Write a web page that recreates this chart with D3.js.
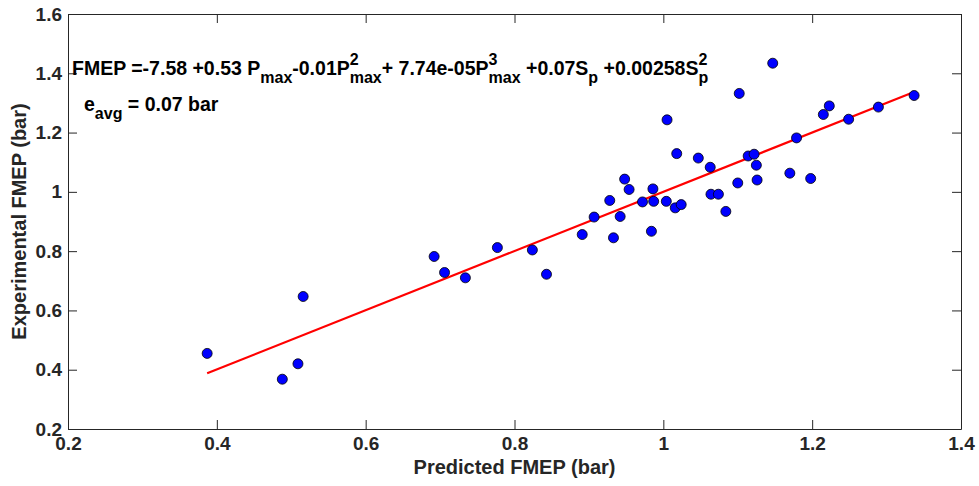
<!DOCTYPE html>
<meta charset="utf-8">
<style>
body {
  margin: 0;
  background: #fff;
  font-family: "Liberation Sans", Arial, Helvetica, sans-serif;
}
.axis path, .axis line {
  stroke: #262626;
  stroke-width: 1;
}
.axis text {
  font-family: "Liberation Sans", Arial, sans-serif;
  font-size: 19px;
  font-weight: bold;
  fill: #262626;
}
.label {
  font-size: 20px;
  font-weight: bold;
  fill: #262626;
}
.eq {
  font-weight: bold;
  fill: #000;
}
</style>
<body>
<script src="https://cdn.jsdelivr.net/npm/d3@7"></script>
<script>

var width = 979,
    height = 486;

var margin = {top: 14, right: 18, bottom: 57, left: 68};

// predicted vs experimental FMEP (bar)
var predicted = [0.387, 0.488, 0.509, 0.516, 0.692, 0.706, 0.734, 0.777, 0.824, 0.843,
  0.891, 0.907, 0.928, 0.933, 0.942, 0.948, 0.954, 0.972, 0.984, 0.986,
  0.987, 1.005, 1.004, 1.016, 1.018, 1.024, 1.047, 1.063, 1.064, 1.074,
  1.084, 1.100, 1.102, 1.114, 1.122, 1.125, 1.126, 1.147, 1.170, 1.179,
  1.198, 1.215, 1.223, 1.249, 1.289, 1.337];
var experimental = [0.455, 0.368, 0.420, 0.647, 0.782, 0.728, 0.710, 0.812, 0.804, 0.722,
  0.856, 0.915, 0.971, 0.845, 0.917, 1.043, 1.008, 0.966, 0.867, 1.010,
  0.968, 1.243, 0.968, 0.946, 1.129, 0.957, 1.114, 1.083, 0.992, 0.992,
  0.934, 1.030, 1.332, 1.121, 1.127, 1.090, 1.040, 1.434, 1.063, 1.182,
  1.045, 1.261, 1.290, 1.245, 1.286, 1.325];

// fitted line end points
var fitX = [0.387, 1.336];
var fitY = [0.388, 1.336];

var xTicks = [0.2, 0.4, 0.6, 0.8, 1, 1.2, 1.4];
var yTicks = [0.2, 0.4, 0.6, 0.8, 1, 1.2, 1.4, 1.6];

// equation pieces: [text, kind]  n = normal, sub, sup, both = sup over sub
var equation = [
  ["FMEP =-7.58 +0.53 P", "n"], ["max", "sub"],
  ["-0.01P", "n"], ["2|max", "both"],
  ["+ 7.74e-05P", "n"], ["3|max", "both"],
  [" +0.07S", "n"], ["p", "sub"],
  [" +0.00258S", "n"], ["2|p", "both"]
];
var errLine = [["e", "n"], ["avg", "sub"], [" = 0.07 bar", "n"]];

var svg = d3.select("body").append("svg")
    .attr("width", width)
    .attr("height", height);

var x = d3.scaleLinear()
    .domain([0.2, 1.4])
    .range([margin.left, width - margin.right]);

var y = d3.scaleLinear()
    .domain([0.2, 1.6])
    .range([height - margin.bottom, margin.top]);

var fmt = function(d) { return d === 1 ? "1" : d3.format(".1f")(d); };

svg.append("g")
    .attr("class", "axis")
    .attr("transform", "translate(0," + y(0.2) + ")")
    .call(d3.axisBottom(x).tickValues(xTicks).tickFormat(fmt).tickSizeInner(-9).tickSizeOuter(0).tickPadding(8))
    .call(function(g) { g.selectAll("text").attr("dy", "0.71em").attr("y", 8); });

svg.append("g")
    .attr("class", "axis")
    .attr("transform", "translate(0," + y(1.6) + ")")
    .call(d3.axisTop(x).tickValues(xTicks).tickFormat("").tickSizeInner(-9).tickSizeOuter(0));

svg.append("g")
    .attr("class", "axis")
    .attr("transform", "translate(" + x(0.2) + ",0)")
    .call(d3.axisLeft(y).tickValues(yTicks).tickFormat(fmt).tickSizeInner(-9).tickSizeOuter(0))
    .call(function(g) { g.selectAll("text").attr("x", -6); });

svg.append("g")
    .attr("class", "axis")
    .attr("transform", "translate(" + x(1.4) + ",0)")
    .call(d3.axisRight(y).tickValues(yTicks).tickFormat("").tickSizeInner(-9).tickSizeOuter(0));

svg.selectAll(".axis .domain").attr("fill", "none");

// fit line
var line = d3.line()
    .x(function(d) { return x(d[0]); })
    .y(function(d) { return y(d[1]); });

svg.append("path")
    .datum(fitX.map(function(v, i) { return [v, fitY[i]]; }))
    .attr("d", line)
    .attr("fill", "none")
    .attr("stroke", "#ff0000")
    .attr("stroke-width", 2.2);

svg.selectAll(".dot")
    .data(predicted.map(function(v, i) { return [v, experimental[i]]; }))
  .enter().append("circle")
    .attr("class", "dot")
    .attr("cx", function(d) { return x(d[0]); })
    .attr("cy", function(d) { return y(d[1]); })
    .attr("r", 5)
    .attr("fill", "#0000ff")
    .attr("stroke", "#000")
    .attr("stroke-width", 0.8);

// axis labels
svg.append("text")
    .attr("class", "label")
    .attr("x", (x(0.2) + x(1.4)) / 2)
    .attr("y", 474)
    .attr("text-anchor", "middle")
    .text("Predicted FMEP (bar)");

svg.append("text")
    .attr("class", "label")
    .attr("transform", "translate(26," + (y(0.9)) + ") rotate(-90)")
    .attr("text-anchor", "middle")
    .text("Experimental FMEP (bar)");

// text with sub/superscripts
function richText(parts, x0, y0, size, small) {
  var g = svg.append("g").attr("class", "eq");
  var cx = x0;
  parts.forEach(function(p) {
    if (p[1] === "n") {
      var t = g.append("text").attr("x", cx).attr("y", y0)
          .attr("font-size", size).attr("xml:space", "preserve").text(p[0]);
      cx += t.node().getComputedTextLength();
    } else if (p[1] === "sub") {
      var s = g.append("text").attr("x", cx).attr("y", y0 + 8)
          .attr("font-size", small).text(p[0]);
      cx += s.node().getComputedTextLength();
    } else {
      var bits = p[0].split("|");
      var a = g.append("text").attr("x", cx).attr("y", y0 - 10)
          .attr("font-size", small).text(bits[0]);
      var b = g.append("text").attr("x", cx).attr("y", y0 + 8)
          .attr("font-size", small).text(bits[1]);
      cx += Math.max(a.node().getComputedTextLength(), b.node().getComputedTextLength());
    }
  });
}

richText(equation, 72, 75, 19.5, 16);
richText(errLine, 84, 111, 19.5, 16);

</script>
